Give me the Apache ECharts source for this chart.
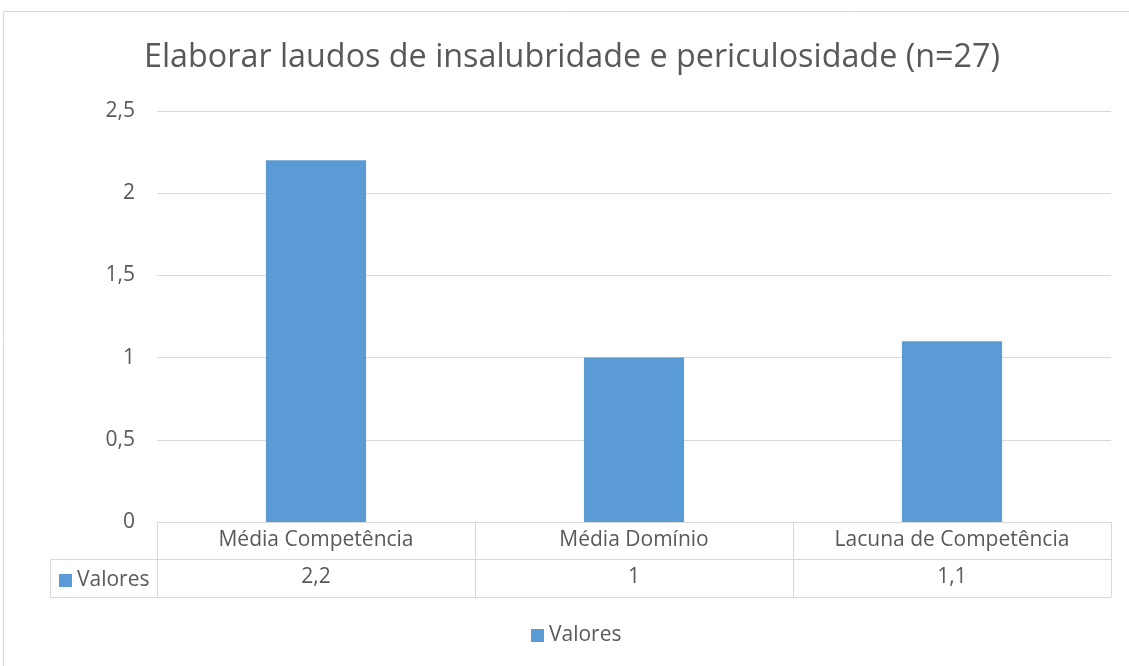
<!DOCTYPE html>
<html><head><meta charset="utf-8">
<script src="https://cdn.jsdelivr.net/npm/echarts@6/dist/echarts.min.js"></script>
<style>html,body{margin:0;padding:0;background:#fff}#c{width:1129px;height:666px}</style>
</head><body><div id="c"></div>
<script>
const titleText = 'Elaborar laudos de insalubridade e periculosidade (n=27)';
const categories = ['Média Competência', 'Média Domínio', 'Lacuna de Competência'];
const seriesName = 'Valores';
const values = [2.2, 1, 1.1];
const yTicks = [0, 0.5, 1, 1.5, 2, 2.5];

const fmt = v => String(v).replace('.', ',');
const FONT = '"Open Sans", sans-serif';
const TXT = '#595959';
const LINE = '#d9d9d9';
const BAR = '#5B9BD5';
const FS = 21;

const chart = echarts.init(document.getElementById('c'));
chart.setOption({
  animation: false,
  title: { text: titleText, left: 139, top: 37,
    textStyle: { fontFamily: FONT, fontWeight: 'normal', fontSize: 32.3, color: TXT } },
  grid: { left: 157, right: 18, top: 111, bottom: 144 },
  legend: [
    { data: [seriesName], top: 625, left: 531, padding: 0, itemWidth: 13, itemHeight: 13, itemGap: 5,
      icon: 'rect', textStyle: { fontFamily: FONT, fontSize: FS, color: TXT } },
    { data: [seriesName], left: 59, top: 570, padding: 0, itemWidth: 13, itemHeight: 13, itemGap: 5,
      icon: 'rect', selectedMode: false, textStyle: { fontFamily: FONT, fontSize: FS, color: TXT } }
  ],
  xAxis: [
    { type: 'category', data: categories, position: 'bottom',
      axisLine: { show: true, lineStyle: { color: LINE, width: 1 } },
      axisTick: { show: true, length: 75, lineStyle: { color: LINE } },
      axisLabel: { margin: 8, fontFamily: FONT, fontSize: FS, color: TXT } },
    { type: 'category', data: categories, position: 'bottom', offset: 37,
      axisLine: { show: true, lineStyle: { color: LINE } },
      axisTick: { show: false },
      axisLabel: { margin: 8, fontFamily: FONT, fontSize: FS, color: TXT,
        formatter: (v, i) => fmt(values[i]) } },
    { type: 'category', data: categories, position: 'bottom', offset: 75,
      axisLine: { show: true, lineStyle: { color: LINE } },
      axisTick: { show: false }, axisLabel: { show: false } }
  ],
  yAxis: { type: 'value', min: yTicks[0], max: yTicks[yTicks.length - 1], interval: 0.5,
    axisLine: { show: false }, axisTick: { show: false },
    splitLine: { lineStyle: { color: LINE } },
    axisLabel: { margin: 22, fontFamily: FONT, fontSize: FS, color: TXT, formatter: v => fmt(v) } },
  series: [{ name: seriesName, type: 'bar', xAxisIndex: 0, data: values, barWidth: '31.5%',
    itemStyle: { color: BAR } }],
  graphic: [
    { type: 'rect', shape: { x: 3.5, y: 11.5, width: 1200, height: 800 }, silent: true,
      style: { fill: 'none', stroke: LINE, lineWidth: 1 }, z: -10 },
    { type: 'line', shape: { x1: 50, y1: 559.5, x2: 157, y2: 559.5 }, style: { stroke: LINE } },
    { type: 'line', shape: { x1: 50, y1: 597.5, x2: 157, y2: 597.5 }, style: { stroke: LINE } },
    { type: 'line', shape: { x1: 50.5, y1: 559, x2: 50.5, y2: 598 }, style: { stroke: LINE } }
  ]
});
</script></body></html>
